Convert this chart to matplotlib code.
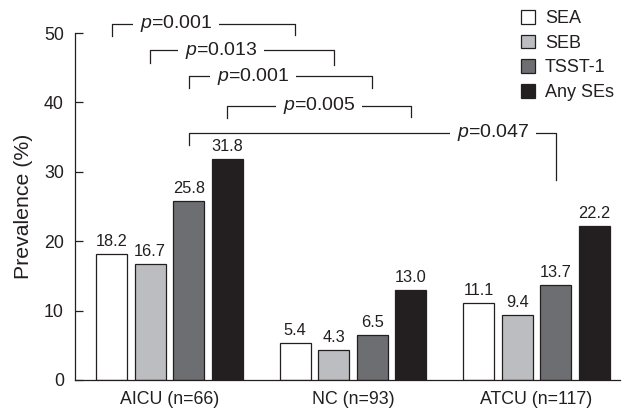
import numpy as np
import matplotlib
matplotlib.use('Agg')
import matplotlib.pyplot as plt

plt.rcParams['font.family'] = ['Liberation Sans', 'DejaVu Sans']
plt.rcParams['mathtext.fontset'] = 'custom'
plt.rcParams['mathtext.it'] = 'Liberation Sans:italic'
plt.rcParams['mathtext.rm'] = 'Liberation Sans'

# data
groups = ['AICU (n=66)', 'NC (n=93)', 'ATCU (n=117)']
series = ['SEA', 'SEB', 'TSST-1', 'Any SEs']
sea = [18.2, 5.4, 11.1]
seb = [16.7, 4.3, 9.4]
tsst = [25.8, 6.5, 13.7]
any_se = [31.8, 13.0, 22.2]
values = [sea, seb, tsst, any_se]

# significance brackets: (group1, series1, group2, series2, label)
pairs = [(0, 0, 1, 0, '0.001'),
         (0, 1, 1, 1, '0.013'),
         (0, 2, 1, 2, '0.001'),
         (0, 3, 1, 3, '0.005'),
         (0, 2, 2, 2, '0.047')]
# bracket heights, tick bottoms (left, right) and text x in data units
pair_y = [51.3, 47.55, 43.8, 39.5, 35.6]
pair_left_bottom = [49.6, 45.7, 42.1, 37.8, 33.9]
pair_right_bottom = [49.7, 45.4, 42.1, 37.9, 28.8]
pair_text_x = [0.035, 0.281, 0.455, 0.815, 1.763]

colors = ['white', '#bcbdc0', '#6d6e71', '#231f20']
edge = '#231f20'

step = 0.21
width = 0.169
x = np.arange(len(groups))

fig = plt.figure(figsize=(6.27, 4.13), dpi=100)
ax = fig.add_axes([75 / 627, 33 / 413, 545 / 627, 347 / 413])

bars = []
for i, vals in enumerate(values):
    off = (i - 1.5) * step
    b = ax.bar(x + off, vals, width, color=colors[i], edgecolor=edge,
               linewidth=0.9, label=series[i], zorder=2)
    bars.append(b)
    for xi, v in zip(x + off, vals):
        ax.annotate('{0:.1f}'.format(v), (xi, v), xytext=(0, 3.5),
                    textcoords='offset points', ha='center', va='bottom',
                    fontsize=11.8, color='#231f20')

# brackets
for k, (g1, s1, g2, s2, lab) in enumerate(pairs):
    x1 = g1 + (s1 - 1.5) * step
    x2 = g2 + (s2 - 1.5) * step
    y = pair_y[k]
    ax.plot([x1, x1, x2, x2],
            [pair_left_bottom[k], y, y, pair_right_bottom[k]],
            color=edge, linewidth=0.9, clip_on=False, zorder=3)
    ax.text(pair_text_x[k], y, '$p$=' + lab, ha='center', va='center',
            fontsize=14, color='#231f20', zorder=4,
            bbox=dict(boxstyle='square,pad=0.35', fc='white', ec='none'))

ax.set_xlim(-0.515, 2.455)
ax.set_ylim(0, 50)
ax.set_yticks([0, 10, 20, 30, 40, 50])
ax.set_xticks(x)
ax.set_xticklabels(groups, fontsize=12.8)
ax.tick_params(axis='y', direction='in', length=6, width=0.9, pad=8,
               labelsize=12.8, colors='#231f20')
ax.tick_params(axis='x', length=0, pad=8, colors='#231f20')
ax.set_ylabel('Prevalence (%)', fontsize=15.3, color='#231f20', labelpad=8)

for s in ['top', 'right']:
    ax.spines[s].set_visible(False)
for s in ['left', 'bottom']:
    ax.spines[s].set_color(edge)
    ax.spines[s].set_linewidth(0.9)

leg = fig.legend(handles=bars, labels=series, loc='upper left',
                 bbox_to_anchor=(521 / 627, 1 - 10 / 413), frameon=False,
                 fontsize=13, handlelength=0.78, handleheight=0.78,
                 handletextpad=0.55, labelspacing=0.42, borderpad=0,
                 borderaxespad=0)
for t in leg.get_texts():
    t.set_color('#231f20')

plt.savefig('out.png', dpi=100)
